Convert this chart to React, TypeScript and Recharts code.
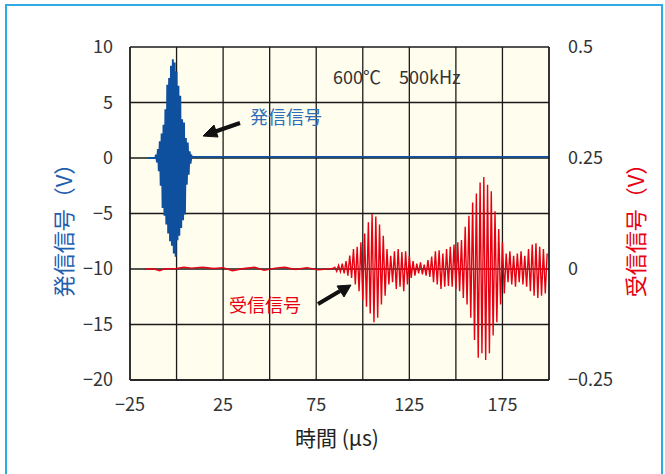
import { LineChart, Line, XAxis, YAxis, CartesianGrid } from "recharts";

// 時間軸 (µs)
const xTicks = [-25, 0, 25, 50, 75, 100, 125, 150, 175, 200];
const xLabeled = [-25, 25, 75, 125, 175];
const leftTicks = [-20, -15, -10, -5, 0, 5, 10];
const rightTicks = [-0.25, 0, 0.25, 0.5];

// 発信信号: 0.5µs おきのサンプル (-11 ～ 8 µs)
const txStart = -11;
const txStep = 0.5;
const txBurst = [
  0.3, -0.4, 0.8, -1.2, 1.5, -2.5, 2.2, -4.5, 3.0, -5.2,
  4.4, -6.0, 6.6, -6.8, 7.2, -7.5, 8.3, -7.9, 8.9, -8.6,
  8.6, -8.9, 7.8, -7.4, 6.5, -7.0, 5.6, -6.3, 3.5, -5.6,
  3.2, -5.1, 1.8, -2.4, 1.4, -1.5, 0.6, -0.5, 0.2,
];
const txQuiet = [
  { t: -15.5, v: 0 },
  { t: -11.5, v: 0 },
  { t: 8.5, v: 0.1 },
  { t: 200, v: 0.1 },
];

// 受信信号: 到達前の小さな揺れ (-17 ～ 84 µs)
const rxQuiet = [
  { t: -17, v: 0 },
  { t: -12, v: 0 },
  { t: -9, v: -0.004 },
  { t: -7, v: 0 },
  { t: 0, v: 0.001 },
  { t: 4, v: 0.004 },
  { t: 8, v: 0.002 },
  { t: 14, v: 0.004 },
  { t: 20, v: 0.001 },
  { t: 25, v: 0.003 },
  { t: 30, v: -0.004 },
  { t: 36, v: 0.001 },
  { t: 42, v: 0.004 },
  { t: 47, v: -0.003 },
  { t: 53, v: 0.002 },
  { t: 58, v: 0.004 },
  { t: 64, v: -0.001 },
  { t: 70, v: 0.003 },
  { t: 76, v: -0.002 },
  { t: 84, v: 0.001 },
];
// 受信信号: 1µs おきのサンプル (85 ～ 199 µs)
const rxStart = 85;
const rxStep = 1;
const rxBurst = [
  0.004, -0.005, 0.008, -0.006, 0.012, -0.01, 0.018, -0.015, 0.03, -0.02,
  0.045, -0.035, 0.05, -0.05, 0.06, -0.07, 0.08, -0.085, 0.105, -0.1,
  0.124, -0.12, 0.118, -0.11, 0.1, -0.08, 0.075, -0.06, 0.045, -0.035,
  0.03, -0.03, 0.04, -0.045, 0.045, -0.04, 0.038, -0.05, 0.04, -0.035,
  0.03, -0.02, 0.018, -0.015, 0.012, -0.01, 0.015, -0.012, 0.01, -0.015,
  0.02, -0.018, 0.028, -0.03, 0.04, -0.035, 0.042, -0.045, 0.035, -0.04,
  0.045, -0.038, 0.05, -0.04, 0.055, -0.045, 0.06, -0.05, 0.065, -0.065,
  0.095, -0.08, 0.12, -0.11, 0.15, -0.16, 0.17, -0.2, 0.195, -0.19,
  0.207, -0.205, 0.19, -0.19, 0.175, -0.15, 0.13, -0.12, 0.09, -0.08,
  0.06, -0.055, 0.035, -0.03, 0.04, -0.035, 0.03, -0.04, 0.035, -0.03,
  0.04, -0.035, 0.03, -0.04, 0.045, -0.05, 0.055, -0.06, 0.058, -0.065,
  0.05, -0.06, 0.045, -0.055, 0.035,
];

const txData = [
  ...txQuiet.slice(0, 2),
  ...txBurst.map((v, i) => ({ t: txStart + i * txStep, v })),
  ...txQuiet.slice(2),
];
const rxData = [
  ...rxQuiet,
  ...rxBurst.map((v, i) => ({ t: rxStart + i * rxStep, v })),
];

const FONT = "'Noto Sans CJK JP', 'Noto Sans', sans-serif";
const BLUE = "#0e4f9e";
const RED = "#e60012";

const minus = (v: number) => String(v).replace("-", "\u2212");

export default function App() {
  return (
    <div style={{ position: "absolute", left: 0, top: 0, width: 665, height: 474, background: "#fff", overflow: "hidden", fontFamily: FONT }}>
      <LineChart
        width={665}
        height={474}
        margin={{ top: 47, right: 56, bottom: 64, left: 70 }}
      >
        <CartesianGrid
          yAxisId="left"
          stroke="#1a1a1a"
          strokeWidth={1.3}
          fill="#fffdee"
          fillOpacity={1}
        />
        <XAxis
          type="number"
          dataKey="t"
          domain={[-25, 200]}
          ticks={xTicks}
          allowDataOverflow
          tickLine={false}
          axisLine={{ stroke: "#1a1a1a", strokeWidth: 1.3 }}
          tickSize={0}
          tickMargin={18}
          height={30}
          interval={0}
          tickFormatter={(v: number) => (xLabeled.includes(v) ? minus(v) : "")}
          tick={{ fill: "#333", fontSize: 18, fontFamily: FONT }}
        />
        <YAxis
          yAxisId="left"
          domain={[-20, 10]}
          ticks={leftTicks}
          interval={0}
          width={60}
          tickLine={false}
          axisLine={{ stroke: "#1a1a1a", strokeWidth: 1.3 }}
          tickSize={0}
          tickMargin={17}
          tickFormatter={minus}
          tick={{ fill: "#333", fontSize: 18, fontFamily: FONT }}
        />
        <YAxis
          yAxisId="right"
          orientation="right"
          domain={[-0.25, 0.5]}
          ticks={rightTicks}
          interval={0}
          width={60}
          tickLine={false}
          axisLine={{ stroke: "#1a1a1a", strokeWidth: 1.3 }}
          tickSize={0}
          tickMargin={19}
          tickFormatter={minus}
          tick={{ fill: "#333", fontSize: 18, fontFamily: FONT }}
        />
        <Line
          yAxisId="right"
          data={rxData}
          dataKey="v"
          type="linear"
          stroke={RED}
          strokeWidth={1.4}
          dot={false}
          isAnimationActive={false}
        />
        <Line
          yAxisId="left"
          data={txData}
          dataKey="v"
          type="linear"
          stroke={BLUE}
          strokeWidth={1.9}
          dot={false}
          isAnimationActive={false}
        />
      </LineChart>
      <svg
        width={665}
        height={474}
        style={{ position: "absolute", left: 0, top: 0, pointerEvents: "none" }}
      >
        <rect x={6} y={5} width={656} height={490} fill="none" stroke="#2eaae4" strokeWidth={2} />
        <text x={333} y={84} fontSize={18} fill="#333" fontFamily={FONT}>600℃　500kHz</text>
        <text x={250} y={124} fontSize={18} fill="#2f6fb8" fontFamily={FONT}>発信信号</text>
        <text x={229} y={312} fontSize={18} fill={RED} fontFamily={FONT}>受信信号</text>
        <g stroke="#111" strokeWidth={4} fill="#111">
          <line x1={240} y1={123} x2={214} y2={132} />
          <polygon points="203,136 214,125 218,137" strokeWidth={1} />
          <line x1={318} y1={304} x2={340} y2={291} />
          <polygon points="351,285 337,286 344,297" strokeWidth={1} />
        </g>
        <text
          transform="translate(62,225) rotate(-90)"
          textAnchor="middle"
          dominantBaseline="central"
          fontSize={22}
          fill="#1f5fae"
          fontFamily={FONT}
        >
          発信信号（V）
        </text>
        <text
          transform="translate(634,225) rotate(-90)"
          textAnchor="middle"
          dominantBaseline="central"
          fontSize={22}
          fill={RED}
          fontFamily={FONT}
        >
          受信信号（V）
        </text>
        <text x={337} y={446} textAnchor="middle" fontSize={21} fill="#222" fontFamily={FONT}>
          時間 (µs)
        </text>
      </svg>
    </div>
  );
}
